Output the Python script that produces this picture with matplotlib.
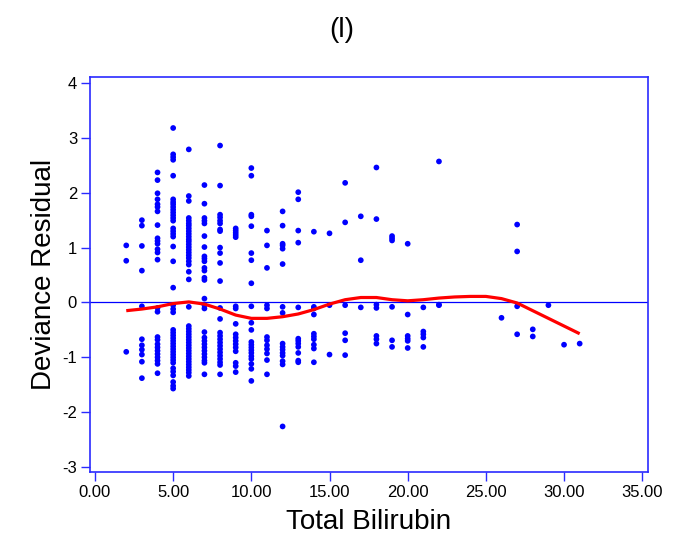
import matplotlib
matplotlib.use("Agg")
import matplotlib.pyplot as plt

plt.rcParams['font.family'] = ['Liberation Sans', 'DejaVu Sans']
plt.rcParams['axes.unicode_minus'] = False

# bilirubin levels and the deviance residuals observed at each level
bili_levels = [2, 3, 4, 5, 6, 7, 8, 9, 10, 11, 12, 13, 14, 15, 16, 17, 18, 19,
               20, 21, 22, 26, 27, 28, 29, 30, 31]
resid_groups = [
    [1.04, 0.76, -0.90],
    [1.50, 1.40, 1.03, 0.58, -0.07, -0.67, -0.78, -0.86, -0.95, -1.08, -1.38],
    [2.37, 2.23, 1.99, 1.88, 1.79, 1.74, 1.66, 1.41, 1.17, 1.12, 1.07, 0.97, 0.91, 0.78,
     -0.10, -0.17, -0.63, -0.68, -0.76, -0.82, -0.88, -0.94, -1.00, -1.06, -1.12, -1.29],
    [3.18, 2.70, 2.65, 2.60, 2.31, 1.88, 1.83, 1.79, 1.74, 1.69, 1.64, 1.59, 1.54, 1.49,
     1.35, 1.30, 1.25, 1.20, 1.02, 0.75, 0.27, -0.05, -0.12, -0.18, -0.50, -0.55, -0.60,
     -0.65, -0.70, -0.75, -0.80, -0.85, -0.90, -0.95, -1.00, -1.05, -1.10, -1.20, -1.26,
     -1.33, -1.45, -1.52, -1.57],
    [2.79, 1.94, 1.85, 1.54, 1.49, 1.44, 1.40, 1.35, 1.30, 1.25, 1.20, 1.15, 1.11, 1.06,
     1.01, 0.96, 0.91, 0.86, 0.81, 0.75, 0.69, 0.56, 0.42, -0.08, -0.43, -0.48, -0.53,
     -0.58, -0.63, -0.68, -0.73, -0.78, -0.83, -0.88, -0.93, -0.98, -1.03, -1.08, -1.13,
     -1.18, -1.23, -1.28, -1.34],
    [2.14, 1.80, 1.54, 1.49, 1.44, 1.21, 1.01, 0.84, 0.80, 0.75, 0.63, 0.58, 0.45, 0.41,
     0.07, -0.05, -0.11, -0.54, -0.64, -0.70, -0.76, -0.82, -0.88, -0.94, -1.00, -1.06,
     -1.10, -1.31],
    [2.86, 2.13, 1.60, 1.55, 1.49, 1.44, 1.33, 1.30, 1.00, 0.90, 0.72, 0.39, -0.10, -0.30,
     -0.55, -0.61, -0.67, -0.73, -0.79, -0.85, -0.91, -0.97, -1.03, -1.09, -1.14, -1.31],
    [1.35, 1.31, 1.27, 1.23, 1.19, -0.07, -0.11, -0.39, -0.58, -0.64, -0.70, -0.76, -0.82,
     -0.89, -1.10, -1.16, -1.27],
    [2.45, 2.31, 1.60, 1.57, 1.39, 0.90, 0.77, 0.35, -0.07, -0.37, -0.50, -0.72, -0.77,
     -0.82, -0.87, -0.92, -0.98, -1.03, -1.12, -1.21, -1.43],
    [1.31, 1.04, 0.63, -0.05, -0.11, -0.63, -0.69, -0.78, -0.85, -0.93, -1.05, -1.31],
    [1.66, 1.40, 1.07, 1.04, 0.98, 0.70, -0.08, -0.19, -0.75, -0.81, -0.86, -0.92, -0.97,
     -1.07, -1.13, -2.26],
    [2.01, 1.88, 1.31, 1.09, -0.09, -0.66, -0.70, -0.75, -0.81, -0.92, -1.06, -1.09],
    [1.29, -0.08, -0.11, -0.22, -0.57, -0.62, -0.67, -0.77, -0.84, -1.09],
    [1.26, -0.05, -0.95],
    [2.18, 1.46, -0.05, -0.56, -0.69, -0.96],
    [1.57, 0.77, -0.09],
    [2.46, 1.52, -0.04, -0.10, -0.61, -0.67, -0.75],
    [1.21, 1.17, 1.13, -0.08, -0.69, -0.81],
    [1.07, -0.22, -0.61, -0.66, -0.70, -0.83],
    [-0.09, -0.53, -0.58, -0.64, -0.81],
    [2.57, -0.04, -0.05],
    [-0.28],
    [1.42, 0.93, -0.07, -0.58],
    [-0.49, -0.62],
    [-0.05],
    [-0.77],
    [-0.75],
]

# smoothed fit through the residuals
curve_x = [2, 3, 4, 5, 6, 7, 8, 9, 10, 11, 12, 13, 14, 15, 16, 17, 18, 19, 20, 21,
           22, 23, 24, 25, 26, 27, 28, 29, 30, 31]
curve_y = [-0.15, -0.12, -0.08, -0.02, 0.01, -0.03, -0.12, -0.23, -0.29, -0.29, -0.26,
           -0.21, -0.13, -0.03, 0.05, 0.09, 0.09, 0.05, 0.03, 0.05, 0.08, 0.10, 0.11,
           0.11, 0.07, -0.01, -0.15, -0.29, -0.43, -0.57]

xticks = [0, 5, 10, 15, 20, 25, 30, 35]
yticks = [-3, -2, -1, 0, 1, 2, 3, 4]

BLUE = '#0000ff'
FRAME = '#2a2aff'

xs, ys = [], []
for b, grp in zip(bili_levels, resid_groups):
    xs += [b] * len(grp)
    ys += grp

fig = plt.figure(figsize=(6.83, 5.44), dpi=100)
ax = fig.add_axes([0.1322, 0.1324, 0.8161, 0.7261])

ax.axhline(0, color=BLUE, lw=0.9, zorder=1)
ax.scatter(xs, ys, s=17, color=BLUE, edgecolors='none', zorder=2)
ax.plot(curve_x, curve_y, color='#ff0000', lw=2.3, zorder=3,
        solid_capstyle='butt', solid_joinstyle='round')

ax.set_xlim(-0.3, 35.35)
ax.set_ylim(-3.09, 4.11)
ax.set_xticks(xticks)
ax.set_xticklabels([f"{t:.2f}" for t in xticks])
ax.set_yticks(yticks)

for sp in ax.spines.values():
    sp.set_color(FRAME)
    sp.set_linewidth(1.2)
ax.tick_params(axis='both', direction='out', length=6.5, width=1.0, color=FRAME,
               labelsize=12, labelcolor='black', pad=3)

ax.set_xlabel("Total Bilirubin", fontsize=20, labelpad=6)
ax.set_ylabel("Deviance Residual", fontsize=20, labelpad=4)
fig.text(0.5, 0.945, "(l)", ha='center', va='center', fontsize=20)

fig.savefig("out.png", dpi=100)
